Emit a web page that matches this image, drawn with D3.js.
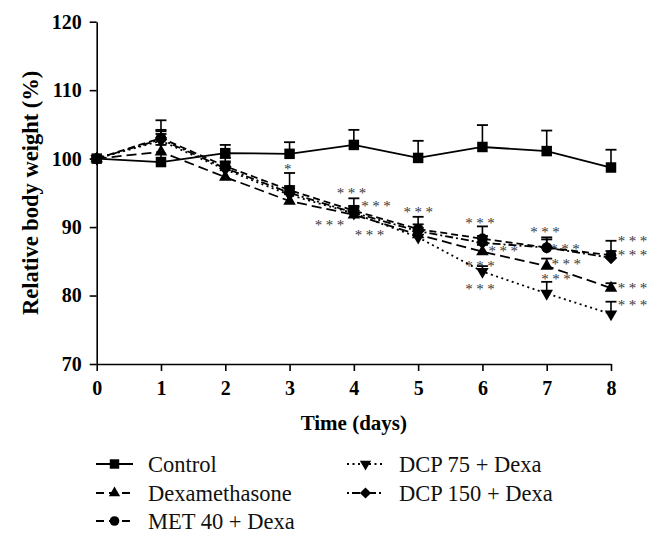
<!DOCTYPE html>
<html>
<head>
<meta charset="utf-8">
<script src="https://cdn.jsdelivr.net/npm/d3@7/dist/d3.min.js"></script>
<style>
  html, body { margin: 0; padding: 0; background: #fff; }
  svg { display: block; }
</style>
</head>
<body>
<svg id="chart" width="662" height="540"></svg>
<script>
// ---------- data ----------
const days = [0, 1, 2, 3, 4, 5, 6, 7, 8];
const yTicks = [70, 80, 90, 100, 110, 120];
const seriesNames = ["Control", "Dexamethasone", "MET 40 + Dexa", "DCP 75 + Dexa", "DCP 150 + Dexa"];

const controlValues = [100, 99.5, 100.8, 100.7, 102.0, 100.1, 101.7, 101.1, 98.7];
const controlErr    = [0, 6.1, 1.2, 1.7, 2.2, 2.5, 3.2, 3.0, 2.6];

const dexaValues = [100, 101.0, 97.3, 93.8, 91.8, 88.9, 86.4, 84.3, 81.1];
const dexaErr    = [0, 1.0, 1.0, 1.0, 1.0, 1.0, 1.0, 1.1, 0.7];

const met40Values = [100, 103.0, 98.9, 95.4, 92.4, 89.7, 88.3, 87.0, 85.9];
const met40Err    = [0, 1.2, 1.2, 2.5, 1.8, 1.8, 1.8, 1.2, 2.1];

const dcp75Values = [100, 102.6, 98.4, 94.7, 92.0, 88.5, 83.5, 80.3, 77.3];
const dcp75Err    = [0, 1.0, 1.0, 1.0, 1.0, 1.0, 0.8, 1.7, 1.8];

const dcp150Values = [100, 102.8, 98.6, 95.0, 92.1, 89.4, 87.7, 87.0, 85.5];
const dcp150Err    = [0, 1.2, 1.0, 1.0, 1.0, 1.0, 1.0, 1.5, 1.0];

// significance marks: [day position, value position, text]
const sigMarks = [
  [3.0, 98.9, "*"],
  [3.99, 95.3, "***"], [4.37, 93.5, "***"], [3.65, 90.7, "***"], [4.27, 89.2, "***"],
  [5.03, 92.5, "***"],
  [5.99, 90.9, "***"], [6.35, 86.8, "***"], [5.99, 84.7, "***"], [5.99, 81.3, "***"],
  [7.0, 89.6, "***"], [7.31, 87.2, "***"], [7.33, 84.9, "***"], [7.17, 82.8, "***"],
  [8.36, 88.4, "***"], [8.36, 86.3, "***"], [8.36, 81.5, "***"], [8.36, 79.0, "***"]
];

// ---------- styles ----------
const styles = {
  "Control":        { dash: null,        legendDash: null,      symbol: "square" },
  "Dexamethasone":  { dash: "10,5",      legendDash: "8,5",     symbol: "triangle" },
  "MET 40 + Dexa":  { dash: "7,4",       legendDash: "8,5",     symbol: "circle" },
  "DCP 75 + Dexa":  { dash: "2,3.5",     legendDash: "2,3.5",   symbol: "down" },
  "DCP 150 + Dexa": { dash: "8,3,2,3",   legendDash: "2,3,8,3", symbol: "diamond" }
};

const series = [
  { name: seriesNames[0], values: controlValues, err: controlErr },
  { name: seriesNames[1], values: dexaValues, err: dexaErr },
  { name: seriesNames[2], values: met40Values, err: met40Err },
  { name: seriesNames[3], values: dcp75Values, err: dcp75Err },
  { name: seriesNames[4], values: dcp150Values, err: dcp150Err }
];

const svg = d3.select("#chart");
const x = d3.scaleLinear().domain([0, 8]).range([96.7, 611]);
const y = d3.scaleLinear().domain([70, 120]).range([364, 21.7]);

function symbolPath(type) {
  switch (type) {
    case "square": return d3.symbol(d3.symbolSquare, 110)();
    case "triangle": return d3.symbol(d3.symbolTriangle, 68)();
    case "down": return d3.symbol(d3.symbolTriangle, 68)();
    case "circle": return d3.symbol(d3.symbolCircle, 90)();
    case "diamond": return d3.symbol(d3.symbolSquare, 78)();
  }
}
function symbolRot(type) {
  if (type === "down") return 180;
  if (type === "diamond") return 45;
  return 0;
}

// ---------- axes ----------
const yAxis = d3.axisLeft(y).tickValues(yTicks).tickSize(7).tickSizeOuter(0).tickPadding(8);
const xAxis = d3.axisBottom(x).tickValues(days).tickSize(7).tickSizeOuter(0).tickPadding(10);

const gy = svg.append("g").attr("transform", `translate(${x(0)},0)`).call(yAxis);
const gx = svg.append("g").attr("transform", `translate(0,${y(70)})`).call(xAxis);
[gx, gy].forEach(g => {
  g.selectAll("path, line").attr("stroke", "#000").attr("stroke-width", 1.6);
  g.selectAll("text").attr("fill", "#000")
    .style("font-family", "'Liberation Serif', 'DejaVu Serif', serif")
    .style("font-weight", "bold").style("font-size", "20px");
});

// axis titles
svg.append("text")
  .attr("x", (x(0) + x(8)) / 2).attr("y", 430)
  .attr("text-anchor", "middle")
  .style("font-family", "'Liberation Serif', serif").style("font-weight", "bold").style("font-size", "21px")
  .text("Time (days)");
svg.append("text")
  .attr("transform", `translate(38,${(y(70) + y(120)) / 2}) rotate(-90)`)
  .attr("text-anchor", "middle")
  .style("font-family", "'Liberation Serif', serif").style("font-weight", "bold").style("font-size", "22.5px")
  .text("Relative body weight (%)");

// ---------- lines ----------
const line = d3.line().x((d, i) => x(days[i])).y(d => y(d));
const plot = svg.append("g");
series.forEach(s => {
  plot.append("path")
    .datum(s.values)
    .attr("d", line)
    .attr("fill", "none")
    .attr("stroke", "#000")
    .attr("stroke-width", 1.8)
    .attr("stroke-dasharray", styles[s.name].dash);
});

// ---------- error bars (upper) ----------
series.forEach(s => {
  const eb = plot.append("g");
  s.values.forEach((v, i) => {
    if (!s.err[i]) return;
    const xi = x(days[i]);
    eb.append("line").attr("x1", xi).attr("x2", xi).attr("y1", y(v)).attr("y2", y(v + s.err[i]))
      .attr("stroke", "#000").attr("stroke-width", 1.6);
    eb.append("line").attr("x1", xi - 5.5).attr("x2", xi + 5.5).attr("y1", y(v + s.err[i])).attr("y2", y(v + s.err[i]))
      .attr("stroke", "#000").attr("stroke-width", 1.8);
  });
});

// ---------- markers ----------
series.forEach(s => {
  const st = styles[s.name];
  plot.append("g").selectAll("path")
    .data(s.values)
    .join("path")
    .attr("d", symbolPath(st.symbol))
    .attr("transform", (d, i) => `translate(${x(days[i])},${y(d)}) rotate(${symbolRot(st.symbol)})`)
    .attr("fill", "#000");
});

// ---------- significance marks ----------
svg.append("g").attr("opacity", 0.8).selectAll("text")
  .data(sigMarks)
  .join("text")
  .attr("x", d => x(d[0]))
  .attr("y", d => y(d[1]) + 7.5)
  .attr("text-anchor", "middle")
  .attr("fill", "#000")
  .style("font-family", "'Liberation Serif', serif")
  .style("font-size", "15px")
  .style("letter-spacing", "3.5px")
  .text(d => d[2]);

// ---------- legend ----------
const legendPos = [
  { col: 0, row: 0 }, { col: 0, row: 1 }, { col: 0, row: 2 },
  { col: 1, row: 0 }, { col: 1, row: 1 }
];
const colX = [96, 347];
const rowY = [464, 493, 521];
const legend = svg.append("g");
series.forEach((s, i) => {
  const st = styles[s.name];
  const lx = colX[legendPos[i].col], ly = rowY[legendPos[i].row];
  const g = legend.append("g").attr("transform", `translate(${lx},${ly})`);
  g.append("line").attr("x1", 0).attr("x2", 37).attr("y1", 0).attr("y2", 0)
    .attr("stroke", "#000").attr("stroke-width", 1.8)
    .attr("stroke-dasharray", st.legendDash);
  g.append("path").attr("d", symbolPath(st.symbol))
    .attr("transform", `translate(18.5,0) rotate(${symbolRot(st.symbol)}) scale(0.9)`)
    .attr("fill", "#000");
  g.append("text").attr("x", 52).attr("y", 7.5)
    .style("font-family", "'Liberation Serif', 'DejaVu Serif', serif")
    .style("font-size", "22.5px")
    .attr("fill", "#111")
    .text(s.name);
});
</script>
</body>
</html>
